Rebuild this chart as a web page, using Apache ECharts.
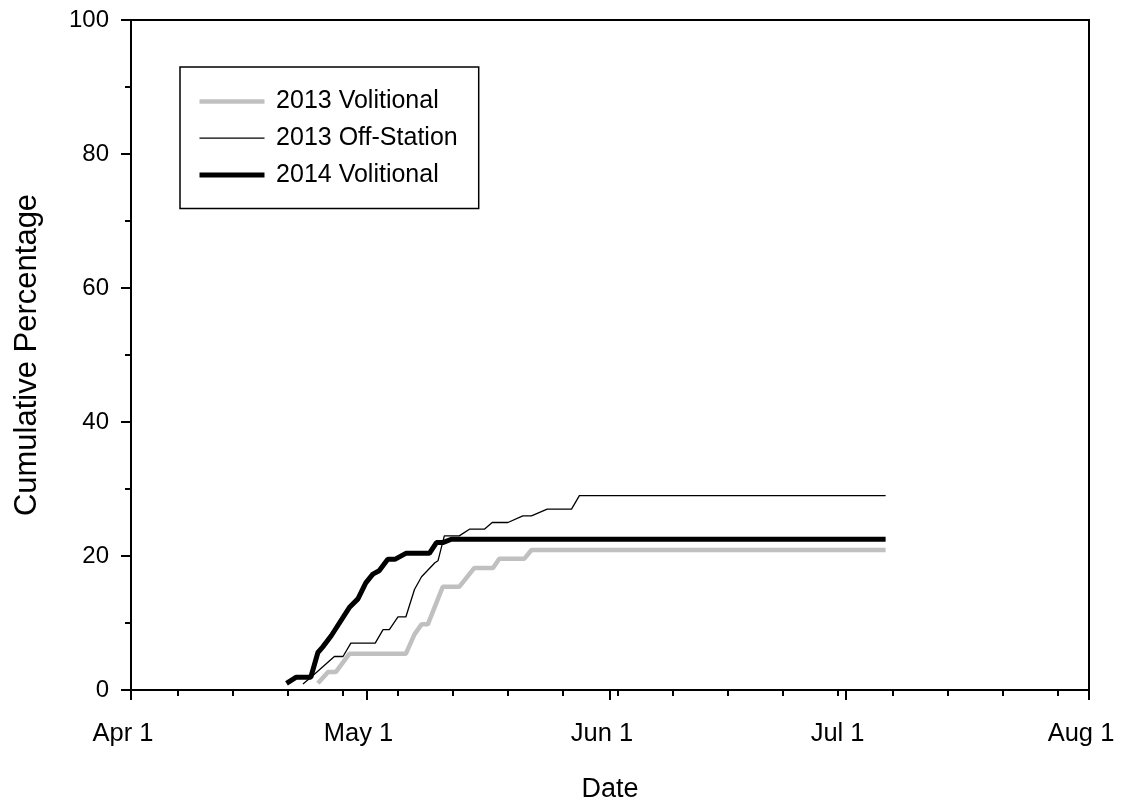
<!DOCTYPE html>
<html>
<head>
<meta charset="utf-8">
<script src="https://cdn.jsdelivr.net/npm/echarts@6/dist/echarts.min.js"></script>
<style>
  html, body { margin: 0; padding: 0; background: #fff; }
  #chart { width: 1122px; height: 808px; }
</style>
</head>
<body>
<div id="chart"></div>
<script>
// x values are days counted from Apr 1
const monthTickDays = [0, 30, 61, 91, 122];
const monthTickLabels = ['Apr 1', 'May 1', 'Jun 1', 'Jul 1', 'Aug 1'];
const weekTickDays = [6, 13, 20, 27, 34, 41, 48, 55, 62, 69, 76, 83, 90, 97, 104, 111, 118];
const rightTickValues = [10, 30, 50, 70, 90];

const seriesNames = ['2013 Volitional', '2013 Off-Station', '2014 Volitional'];

// 2013 Volitional
const vol2013Days = [23.8, 25.1, 26.1, 27.8, 35.0, 36.1, 37.0, 37.8, 39.7, 41.8, 43.7, 46.1, 46.9, 50.1, 51.0, 96.1];
const vol2013Pct  = [1.0, 2.7, 2.7, 5.4, 5.4, 8.3, 9.8, 9.8, 15.4, 15.4, 18.2, 18.2, 19.6, 19.6, 20.9, 20.9];

// 2013 Off-Station
const off2013Days = [21.9, 23.1, 25.9, 27.0, 28.0, 31.1, 32.1, 32.9, 34.0, 35.0, 36.1, 37.0, 38.7, 39.1, 39.9, 41.8, 43.1, 45.0, 46.0, 48.0, 49.9, 51.0, 53.0, 56.1, 57.1, 96.1];
const off2013Pct  = [0.9, 2.1, 5.0, 5.0, 7.0, 7.0, 9.0, 9.0, 10.9, 10.9, 15.0, 16.9, 19.0, 19.3, 23.0, 23.0, 24.0, 24.0, 25.0, 25.0, 26.0, 26.0, 27.0, 27.0, 29.0, 29.0];

// 2014 Volitional
const vol2014Days = [19.8, 21.0, 22.9, 23.8, 24.4, 25.5, 27.8, 28.9, 29.9, 30.8, 31.6, 32.7, 33.6, 35.0, 38.0, 38.9, 39.7, 40.8, 96.1];
const vol2014Pct  = [1.0, 1.9, 1.9, 5.6, 6.4, 8.1, 12.3, 13.6, 16.0, 17.3, 17.8, 19.5, 19.5, 20.4, 20.4, 22.0, 22.0, 22.5, 22.5];

const pairs = (xs, ys) => xs.map((x, i) => [x, ys[i]]);

const lineColors = ['#c0c0c0', '#000', '#000'];
const lineWidths = [4.5, 1.3, 5];

const FONT = '"Liberation Sans", Arial, sans-serif';
const chart = echarts.init(document.getElementById('chart'), null, { renderer: 'canvas' });

chart.setOption({
  animation: false,
  backgroundColor: '#fff',
  grid: {
    left: 131, right: 33, top: 20, bottom: 117,
    show: true, borderColor: '#000', borderWidth: 2, backgroundColor: 'transparent'
  },
  legend: {
    orient: 'vertical',
    left: 180, top: 67,
    padding: [22, 21, 21, 17],
    itemGap: 11.7,
    itemWidth: 65, itemHeight: 14,
    borderColor: '#000', borderWidth: 1.5,
    itemStyle: { opacity: 0 },
    textStyle: { fontFamily: FONT, fontSize: 25, color: '#000', lineHeight: 25, padding: [0, 0, 0, 6.6] },
    data: seriesNames.map((name, i) => ({
      name,
      lineStyle: { color: lineColors[i], width: lineWidths[i] }
    }))
  },
  xAxis: [
    {
      type: 'value', min: 0, max: 122, position: 'bottom',
      name: 'Date', nameLocation: 'middle', nameGap: 86,
      nameTextStyle: { fontFamily: FONT, fontSize: 27, color: '#000' },
      axisLine: { show: true, lineStyle: { color: '#000', width: 2 } },
      axisTick: { show: true, inside: false, length: 10, customValues: monthTickDays, lineStyle: { color: '#000', width: 2 } },
      axisLabel: {
        show: true, margin: 31, customValues: monthTickDays,
        fontFamily: FONT, fontSize: 25.5, color: '#000',
        padding: [0, 16, 0, 0],
        formatter: v => monthTickLabels[monthTickDays.indexOf(v)] || ''
      },
      splitLine: { show: false }
    },
    {
      type: 'value', min: 0, max: 122, position: 'bottom',
      axisLine: { show: false },
      axisTick: { show: true, inside: false, length: 6, customValues: weekTickDays, lineStyle: { color: '#000', width: 2 } },
      axisLabel: { show: false },
      splitLine: { show: false }
    }
  ],
  yAxis: [
    {
      type: 'value', min: 0, max: 100, interval: 20, position: 'left',
      name: 'Cumulative Percentage', nameLocation: 'middle', nameGap: 88, nameRotate: 90,
      nameTextStyle: { fontFamily: FONT, fontSize: 31, color: '#000' },
      axisLine: { show: true, lineStyle: { color: '#000', width: 2 } },
      axisTick: { show: true, inside: false, length: 10, lineStyle: { color: '#000', width: 2 } },
      minorTick: { show: true, splitNumber: 2, length: 6, lineStyle: { color: '#000', width: 2 } },
      axisLabel: { show: true, margin: 22, fontFamily: FONT, fontSize: 24, color: '#000' },
      splitLine: { show: false }
    },
    {
      type: 'value', min: 0, max: 100, position: 'right',
      axisLine: { show: true, lineStyle: { color: '#000', width: 2 } },
      axisTick: { show: true, inside: true, length: 6, customValues: rightTickValues, lineStyle: { color: '#000', width: 2 } },
      axisLabel: { show: false },
      splitLine: { show: false }
    }
  ],
  series: [
    {
      name: seriesNames[0], type: 'line', z: 2,
      symbol: 'none', data: pairs(vol2013Days, vol2013Pct),
      lineStyle: { color: lineColors[0], width: lineWidths[0] },
      itemStyle: { color: lineColors[0] }
    },
    {
      name: seriesNames[1], type: 'line', z: 4,
      symbol: 'none', data: pairs(off2013Days, off2013Pct),
      lineStyle: { color: lineColors[1], width: lineWidths[1] },
      itemStyle: { color: lineColors[1] }
    },
    {
      name: seriesNames[2], type: 'line', z: 3,
      symbol: 'none', data: pairs(vol2014Days, vol2014Pct),
      lineStyle: { color: lineColors[2], width: lineWidths[2] },
      itemStyle: { color: lineColors[2] }
    }
  ]
});
</script>
</body>
</html>
